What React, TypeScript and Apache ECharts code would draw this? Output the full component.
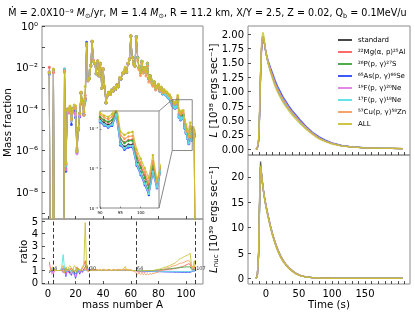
import React, { useEffect, useRef } from "react";
import * as echarts from "echarts";

const FONT = "DejaVu Sans";

const SERIES_NAMES = [
  "standard",
  "²²Mg(α, p)²⁵Al",
  "²⁶P(p, γ)²⁷S",
  "⁶⁵As(p, γ)⁶⁶Se",
  "¹⁹F(p, γ)²⁰Ne",
  "¹⁷F(p, γ)¹⁸Ne",
  "⁵⁷Cu(p, γ)⁵⁸Zn",
  "ALL",
];
const SERIES_COLORS = ["#333333", "#ff5a5a", "#3aa33a", "#2a45ff", "#e27ae2", "#4fe3e3", "#f59a5a", "#c9c02a"];

// mass numbers A = 1..107
const MASS_NUMBERS = Array.from({ length: 107 }, (_, i) => i + 1);

// standard final mass fractions per A (1e-20 = off scale)
const STD_MASS_FRACTION = [
  6e-3, 1e-20, 1e-20, 7e-3, 1e-20, 1e-20, 1e-20, 1e-20, 1e-20, 1e-20,
  1e-20, 7e-3, 2e-7, 9e-5, 8e-5, 1e-4, 3e-5, 1e-4, 1.1e-4, 1.1e-4,
  1e-6, 1e-5, 6e-5, 6e-4, 2e-4, 5e-5, 2.5e-4, 0.11, 2.5e-3, 3e-3,
  1.2e-2, 0.18, 2e-2, 1.5e-2, 5e-3, 2e-2, 4e-3, 1.5e-2, 1e-3, 8e-3,
  1.2e-3, 2e-4, 4.5e-4, 6e-4, 5e-4, 8e-4, 7e-4, 1e-3, 9e-4, 1.4e-3,
  1.2e-3, 3e-3, 2.8e-3, 5e-3, 5.5e-3, 8e-3, 6e-3, 1.5e-2, 2.5e-2, 0.32,
  3e-2, 1.5e-2, 1.2e-2, 0.3, 3e-2, 1e-2, 6e-3, 2e-2, 8e-3, 1e-2,
  6e-3, 1.6e-2, 3e-3, 4e-3, 2.5e-3, 1.6e-3, 2e-3, 1e-3, 1.2e-3, 1.4e-3,
  8e-4, 1e-3, 6e-4, 7e-4, 5.5e-4, 5e-4, 4e-4, 3.5e-4, 2.5e-4, 1.7e-4,
  1.4e-4, 1.25e-4, 1.4e-4, 2.5e-4, 4.5e-5, 3.5e-5, 4e-5, 4e-5, 1.4e-5, 8e-6,
  4.5e-6, 2.5e-6, 9e-6, 3.5e-6, 1e-5, 5e-6, 1e-20,
];

// ratio (variant / standard) per A
const R_22MG = [
  1.7, 1.0, 1.1, 0.8, 1.0, 1.0, 1.0, 1.0, 1.0, 1.1,
  1.2, 1.2, 0.7, 1.1, 0.9, 1.0, 1.2, 1.0, 0.8, 1.0,
  1.3, 1.0, 0.9, 1.0, 1.2, 1.4, 1.8, 1.1, 0.9, 1.0,
  1.05, 1.0, 1.1, 1.0, 1.05, 1.05, 1.0, 1.05, 1.0, 1.1,
  1.05, 1.0, 1.05, 1.05, 1.05, 1.0, 1.05, 1.05, 1.0, 1.08,
  1.05, 1.05, 1.0, 1.05, 1.05, 1.1, 1.0, 1.05, 1.05, 1.05,
  1.0, 1.0, 1.0, 0.95, 0.9, 0.85, 0.92, 0.85, 0.9, 0.85,
  0.92, 0.88, 0.92, 0.9, 0.95, 0.93, 0.97, 0.95, 1.0, 1.0,
  1.0, 1.02, 1.03, 1.05, 1.05, 1.07, 1.08, 1.1, 1.1, 1.12,
  1.15, 1.15, 1.18, 1.2, 1.25, 1.3, 1.3, 1.35, 1.4, 1.45,
  1.5, 1.55, 1.5, 1.2, 1.1, 1.3, 1.0,
];
const R_26P = [
  0.9, 1.0, 1.0, 1.1, 1.0, 1.0, 1.0, 1.0, 1.0, 1.0,
  0.9, 0.9, 1.2, 1.0, 1.1, 0.8, 1.0, 1.1, 0.9, 0.7,
  1.0, 1.2, 1.0, 0.9, 1.0, 1.1, 1.3, 1.2, 1.0, 1.0,
  1.0, 1.0, 1.0, 1.0, 1.0, 1.0, 1.0, 1.0, 1.0, 1.0,
  1.0, 1.0, 1.0, 1.0, 1.0, 1.0, 1.0, 1.0, 1.0, 1.0,
  1.0, 1.0, 1.0, 1.0, 1.0, 1.0, 1.0, 1.0, 1.0, 1.0,
  1.0, 1.0, 1.0, 1.0, 1.0, 1.0, 1.0, 1.0, 1.0, 1.0,
  1.0, 1.0, 1.0, 1.0, 1.0, 1.0, 1.0, 1.02, 1.03, 1.05,
  1.05, 1.07, 1.08, 1.1, 1.1, 1.12, 1.13, 1.15, 1.15, 1.17,
  1.18, 1.2, 1.2, 1.22, 1.22, 1.25, 1.25, 1.27, 1.28, 1.3,
  1.3, 1.3, 1.3, 1.1, 1.05, 1.1, 1.0,
];
const R_65AS = [
  0.8, 1.0, 0.9, 1.0, 1.0, 1.0, 1.0, 1.0, 1.0, 1.0,
  1.1, 1.1, 0.5, 1.0, 0.9, 0.8, 0.6, 1.0, 0.8, 0.35,
  0.8, 1.0, 0.7, 1.0, 0.9, 1.1, 1.2, 1.5, 1.1, 1.0,
  1.0, 1.0, 1.0, 1.0, 1.0, 1.0, 1.0, 1.0, 1.0, 1.0,
  1.0, 1.0, 1.0, 1.0, 1.0, 1.0, 1.0, 1.0, 1.0, 1.0,
  1.0, 1.0, 1.0, 1.0, 1.0, 1.0, 1.0, 1.0, 1.0, 1.0,
  1.0, 1.0, 1.0, 1.0, 0.97, 0.96, 0.95, 0.95, 0.94, 0.94,
  0.93, 0.93, 0.92, 0.92, 0.92, 0.91, 0.91, 0.9, 0.9, 0.9,
  0.9, 0.9, 0.89, 0.89, 0.88, 0.88, 0.88, 0.87, 0.87, 0.87,
  0.87, 0.86, 0.86, 0.86, 0.86, 0.85, 0.85, 0.85, 0.85, 0.85,
  0.85, 0.85, 0.85, 0.9, 0.95, 0.95, 1.0,
];
const R_19F = [
  1.0, 1.0, 0.7, 1.0, 1.0, 1.0, 1.0, 1.0, 1.0, 1.0,
  0.8, 0.9, 0.6, 1.0, 0.8, 0.7, 0.9, 1.0, 0.6, 0.5,
  0.7, 0.9, 0.8, 1.0, 0.8, 1.0, 1.1, 1.0, 1.0, 1.0,
  1.0, 1.0, 1.0, 1.0, 1.0, 1.0, 1.0, 1.0, 1.0, 1.0,
  1.0, 1.0, 1.0, 1.0, 1.0, 1.0, 1.0, 1.0, 1.0, 1.0,
  1.0, 1.0, 1.0, 1.0, 1.0, 1.0, 1.0, 1.0, 1.0, 1.0,
  1.0, 1.0, 1.0, 1.0, 0.98, 0.98, 0.98, 0.98, 0.98, 0.98,
  0.97, 0.97, 0.97, 0.97, 0.97, 0.96, 0.96, 0.96, 0.96, 0.95,
  0.95, 0.95, 0.95, 0.95, 0.94, 0.94, 0.94, 0.94, 0.93, 0.93,
  0.93, 0.93, 0.93, 0.92, 0.92, 0.92, 0.92, 0.92, 0.92, 0.92,
  0.92, 0.92, 0.92, 0.95, 0.97, 0.97, 1.0,
];
const R_17F = [
  1.0, 1.0, 1.2, 1.0, 1.0, 1.0, 1.0, 1.0, 1.0, 1.3,
  2.3, 1.2, 0.9, 1.0, 1.1, 1.0, 0.9, 1.0, 1.0, 1.0,
  1.1, 1.0, 1.0, 1.0, 1.0, 1.0, 1.0, 1.0, 1.0, 1.0,
  1.0, 1.0, 1.0, 1.0, 1.0, 1.0, 1.0, 1.0, 1.0, 1.0,
  1.0, 1.0, 1.0, 1.0, 1.0, 1.0, 1.0, 1.0, 1.0, 1.0,
  1.0, 1.0, 1.0, 1.0, 1.0, 1.0, 1.0, 1.0, 1.0, 1.0,
  1.0, 1.0, 1.0, 1.0, 0.99, 0.99, 0.98, 0.98, 0.97, 0.97,
  0.96, 0.96, 0.96, 0.95, 0.95, 0.95, 0.94, 0.94, 0.94, 0.94,
  0.93, 0.93, 0.93, 0.93, 0.92, 0.92, 0.92, 0.92, 0.92, 0.92,
  0.92, 0.92, 0.92, 0.92, 0.92, 0.92, 0.92, 0.92, 0.92, 0.92,
  0.92, 0.92, 0.92, 0.95, 0.97, 0.97, 1.0,
];
const R_57CU = [
  1.0, 1.0, 1.1, 1.0, 1.0, 1.0, 1.0, 1.0, 1.0, 1.0,
  1.0, 1.0, 1.1, 1.0, 1.0, 1.2, 1.0, 0.9, 1.0, 1.0,
  1.0, 1.1, 1.0, 1.0, 1.0, 1.0, 1.3, 1.0, 1.0, 1.0,
  1.0, 1.02, 1.0, 1.02, 1.0, 1.02, 1.0, 1.02, 1.0, 1.02,
  1.0, 1.02, 1.0, 1.02, 1.0, 1.02, 1.0, 1.02, 1.0, 1.02,
  1.0, 1.02, 1.0, 1.02, 1.0, 1.05, 1.0, 1.02, 1.0, 1.0,
  0.98, 0.95, 0.9, 0.8, 0.7, 0.78, 0.68, 0.76, 0.66, 0.74,
  0.65, 0.73, 0.66, 0.75, 0.7, 0.78, 0.75, 0.82, 0.85, 0.9,
  0.95, 1.0, 1.05, 1.1, 1.15, 1.2, 1.22, 1.25, 1.3, 1.35,
  1.38, 1.4, 1.45, 1.5, 1.55, 1.6, 1.6, 1.65, 1.7, 1.75,
  1.8, 1.8, 1.7, 1.3, 1.2, 1.4, 1.0,
];
const R_ALL = [
  0.9, 1.0, 1.3, 1.2, 1.0, 1.0, 1.0, 1.0, 1.0, 1.2,
  1.4, 0.8, 1.3, 1.0, 1.3, 1.4, 1.2, 1.0, 1.4, 1.3,
  0.9, 1.2, 1.0, 1.1, 1.3, 1.5, 4.9, 1.3, 1.0, 1.0,
  1.0, 1.05, 1.0, 1.05, 1.1, 1.0, 1.05, 1.1, 1.0, 1.05,
  1.1, 1.0, 1.05, 1.1, 1.05, 1.0, 1.05, 1.1, 1.05, 1.0,
  1.05, 1.1, 1.05, 1.1, 1.15, 1.33, 1.05, 1.1, 1.0, 1.05,
  1.0, 1.0, 1.0, 1.0, 0.95, 1.0, 0.95, 1.0, 0.95, 1.0,
  1.0, 1.0, 1.0, 1.0, 1.0, 1.0, 1.02, 1.05, 1.08, 1.1,
  1.12, 1.15, 1.2, 1.25, 1.28, 1.3, 1.35, 1.4, 1.45, 1.5,
  1.55, 1.6, 1.7, 1.8, 1.9, 2.0, 2.0, 2.1, 2.15, 2.2,
  2.25, 2.3, 2.4, 1.4, 1.3, 1.8, 1.0,
];
const RATIOS = [R_22MG, R_26P, R_65AS, R_19F, R_17F, R_57CU, R_ALL];

// vertical dashed markers in the ratio panel
const MARK_A = [4, 30, 64, 107];
const MARK_LABELS = ["4", "30", "64", "107"];

// light curves
const TIME_S = [-15, -13, -11, -10, -9, -8, -7, -6, -5, -4, -3, -2, 0, 2, 4, 7, 10, 14, 18, 22, 26, 30, 35, 40, 46, 52, 60, 70, 80, 90, 100, 115, 130, 150, 170, 190, 207];
const L_STD = [0, 0.01, 0.15, 0.4, 0.85, 1.3, 1.65, 1.85, 1.94, 1.96, 1.9, 1.83, 1.68, 1.57, 1.48, 1.36, 1.26, 1.13, 1.02, 0.93, 0.85, 0.78, 0.7, 0.63, 0.55, 0.47, 0.38, 0.28, 0.2, 0.14, 0.1, 0.06, 0.04, 0.025, 0.018, 0.015, 0.012];
const L_22MG = [0, 0.01, 0.12, 0.35, 0.78, 1.22, 1.58, 1.8, 1.9, 1.93, 1.88, 1.82, 1.68, 1.58, 1.5, 1.39, 1.29, 1.16, 1.05, 0.96, 0.88, 0.8, 0.72, 0.65, 0.57, 0.49, 0.39, 0.29, 0.21, 0.15, 0.1, 0.06, 0.04, 0.025, 0.018, 0.015, 0.012];
const L_65AS = [0, 0.01, 0.14, 0.38, 0.82, 1.26, 1.62, 1.83, 1.92, 1.94, 1.89, 1.83, 1.7, 1.6, 1.52, 1.42, 1.33, 1.2, 1.09, 1.0, 0.91, 0.84, 0.75, 0.67, 0.59, 0.51, 0.41, 0.3, 0.22, 0.16, 0.11, 0.065, 0.042, 0.026, 0.019, 0.015, 0.012];
const L_57CU = [0, 0.01, 0.15, 0.4, 0.84, 1.28, 1.64, 1.84, 1.93, 1.95, 1.9, 1.83, 1.69, 1.58, 1.5, 1.38, 1.28, 1.15, 1.04, 0.95, 0.87, 0.8, 0.71, 0.64, 0.56, 0.48, 0.39, 0.28, 0.2, 0.14, 0.1, 0.06, 0.04, 0.025, 0.018, 0.015, 0.012];
const L_ALL = [0, 0.02, 0.2, 0.5, 0.95, 1.4, 1.75, 1.93, 2.01, 2.03, 1.97, 1.88, 1.7, 1.57, 1.46, 1.33, 1.22, 1.09, 0.98, 0.89, 0.81, 0.74, 0.66, 0.59, 0.51, 0.44, 0.35, 0.26, 0.18, 0.13, 0.09, 0.055, 0.037, 0.023, 0.017, 0.014, 0.012];
const LNUC_STD = [0, 0.3, 5, 12, 19, 23, 21.5, 20, 18.8, 17.7, 16.7, 15.8, 14.3, 13, 11.8, 10.1, 8.6, 6.9, 5.5, 4.3, 3.4, 2.7, 2.0, 1.4, 0.9, 0.55, 0.3, 0.15, 0.08, 0.05, 0.03, 0.02, 0.02, 0.01, 0.01, 0.01, 0.01];
const LNUC_VAR = [0, 0.3, 4.5, 11, 18, 22, 21, 19.7, 18.6, 17.6, 16.7, 15.9, 14.5, 13.2, 12, 10.3, 8.8, 7.1, 5.7, 4.5, 3.55, 2.8, 2.1, 1.5, 0.95, 0.6, 0.32, 0.16, 0.08, 0.05, 0.03, 0.02, 0.02, 0.01, 0.01, 0.01, 0.01];
const LNUC_ALL = [0, 0.4, 5.5, 12.5, 19, 22.2, 21.2, 19.8, 18.6, 17.5, 16.5, 15.6, 14.1, 12.8, 11.6, 9.9, 8.4, 6.7, 5.3, 4.2, 3.3, 2.6, 1.9, 1.35, 0.85, 0.52, 0.28, 0.14, 0.07, 0.04, 0.03, 0.02, 0.02, 0.01, 0.01, 0.01, 0.01];
const L_BY_SERIES = [L_STD, L_22MG, L_STD, L_65AS, L_STD, L_STD, L_57CU, L_ALL];
const LNUC_BY_SERIES = [LNUC_STD, LNUC_VAR, LNUC_VAR, LNUC_VAR, LNUC_VAR, LNUC_VAR, LNUC_VAR, LNUC_ALL];

// tick values
const MASS_TICKS = [0, 20, 40, 60, 80, 100];
const LOG_TICKS = [-8, -6, -4, -2, 0];
const LOG_MINOR = [-9, -8, -7, -6, -5, -4, -3, -2, -1, 0];
const RATIO_TICKS = [0, 1, 2, 3, 4, 5];
const TIME_TICKS = [0, 50, 100, 150];
const TIME_MINOR = [-20, -10, 0, 10, 20, 30, 40, 50, 60, 70, 80, 90, 100, 110, 120, 130, 140, 150, 160, 170, 180, 190, 200, 210];
const L_TICKS = [0, 0.25, 0.5, 0.75, 1.0, 1.25, 1.5, 1.75, 2.0];
const LNUC_TICKS = [0, 5, 10, 15, 20];
const INSET_X = [90, 104.5];
const INSET_Y = [-6, -3.55];
const INSET_X_TICKS = [90, 95, 100];
const INSET_Y_TICKS = [-6, -5, -4];

const SUP: Record<string, string> = { "-": "⁻", "0": "⁰", "1": "¹", "2": "²", "3": "³", "4": "⁴", "5": "⁵", "6": "⁶", "7": "⁷", "8": "⁸", "9": "⁹" };
const pow10 = (v: number) => "10" + String(Math.round(v)).split("").map((c) => SUP[c] || c).join("");

const BORDER = "#8a8a8a";

function axisBase(extra: any) {
  return {
    axisLine: { show: false, onZero: false },
    splitLine: { show: false },
    ...extra,
  };
}

function buildOption() {
  const series: any[] = [];
  const mf = (k: number) =>
    MASS_NUMBERS.map((a, i) => [a, Math.log10(STD_MASS_FRACTION[i] * (k === 0 ? 1 : RATIOS[k - 1][i]))]);

  SERIES_NAMES.forEach((name, k) => {
    const color = SERIES_COLORS[k];
    const data = mf(k);
    series.push({
      name, type: "line", xAxisIndex: 0, yAxisIndex: 0, data,
      symbol: "circle", symbolSize: 3, color,
      lineStyle: { width: 1, color, opacity: 0.8 },
      itemStyle: { color, opacity: 0.9 },
      z: 2 + k * 0.1,
    });
    series.push({
      name, type: "line", xAxisIndex: 4, yAxisIndex: 4,
      data: data.filter((d) => d[0] >= 88 && d[0] <= 106),
      symbol: "circle", symbolSize: 2.5, color,
      lineStyle: { width: 1.2, color, opacity: 0.85 },
      itemStyle: { color },
      z: 3 + k * 0.1,
    });
    if (k > 0) {
      const ratioSeries: any = {
        name, type: "line", xAxisIndex: 1, yAxisIndex: 1,
        data: MASS_NUMBERS.map((a, i) => [a, RATIOS[k - 1][i]]),
        showSymbol: false, color,
        lineStyle: { width: 1, color, opacity: 0.85 },
        z: 2 + k * 0.1,
      };
      if (k === 1) {
        ratioSeries.markLine = {
          silent: true, symbol: "none",
          label: { show: false },
          lineStyle: { type: [4, 2.5], color: "#222", width: 0.9, opacity: 1 },
          data: MARK_A.map((a) => ({ xAxis: a })),
        };
      }
      series.push(ratioSeries);
    }
    series.push({
      name, type: "line", xAxisIndex: 2, yAxisIndex: 2,
      data: TIME_S.map((t, i) => [t, L_BY_SERIES[k][i]]),
      showSymbol: false, color,
      lineStyle: { width: 1.3, color, opacity: 0.8 },
      z: 2 + k * 0.1,
    });
    series.push({
      name, type: "line", xAxisIndex: 3, yAxisIndex: 3,
      data: TIME_S.map((t, i) => [t, LNUC_BY_SERIES[k][i]]),
      showSymbol: false, color,
      lineStyle: { width: 1.3, color, opacity: 0.8 },
      z: 2 + k * 0.1,
    });
  });

  series.push({
    type: "scatter", xAxisIndex: 1, yAxisIndex: 1, symbolSize: 0, silent: true,
    data: MARK_A.map((a, i) => [a, 1.2, MARK_LABELS[i]]),
    label: {
      show: true, position: "right", distance: 0.5, fontSize: 5, color: "#000", fontFamily: FONT,
      formatter: (p: any) => p.data[2],
    },
    z: 10,
  });

  const tickStyle = { inside: true, length: 3, lineStyle: { color: "#222", width: 0.8 } };
  const labelStyle = { color: "#000", fontSize: 10, fontFamily: FONT, margin: 4 };
  const nameStyle = { color: "#000", fontSize: 10.3, fontFamily: FONT };

  return {
    animation: false,
    textStyle: { fontFamily: FONT },
    title: {
      text: "Ṁ = 2.0X10⁻⁹ {i|M}{s|⊙}/yr, M = 1.4 {i|M}{s|⊙}, R = 11.2 km, X/Y = 2.5, Z = 0.02, Q{s|b} = 0.1MeV/u",
      left: "center", top: 1,
      textStyle: {
        fontFamily: FONT, fontSize: 9.6, fontWeight: "normal", color: "#000", lineHeight: 13,
        rich: {
          i: { fontFamily: FONT, fontSize: 9.6, fontStyle: "italic", color: "#000", lineHeight: 13 },
          s: { fontFamily: FONT, fontSize: 6.5, color: "#000", lineHeight: 8, verticalAlign: "bottom" },
        },
      },
    },
    legend: {
      data: SERIES_NAMES, orient: "vertical", left: 333, top: 31,
      itemWidth: 14, itemHeight: 2, itemGap: 4, icon: "rect", selectedMode: false,
      textStyle: { fontSize: 7, fontFamily: FONT, color: "#000", lineHeight: 8, padding: [0, 0, 0, 1] },
    },
    grid: [
      { left: 42, top: 26, width: 161, height: 193, show: true, borderColor: BORDER, borderWidth: 1, outerBoundsMode: "none" },
      { left: 42, top: 219, width: 161, height: 65, show: true, borderColor: BORDER, borderWidth: 1, outerBoundsMode: "none" },
      { left: 248, top: 26, width: 162, height: 129, show: true, borderColor: BORDER, borderWidth: 1, outerBoundsMode: "none" },
      { left: 248, top: 155, width: 162, height: 129, show: true, borderColor: BORDER, borderWidth: 1, outerBoundsMode: "none" },
      { left: 100, top: 111, width: 59, height: 97, show: true, borderColor: BORDER, borderWidth: 1, backgroundColor: "#fff", outerBoundsMode: "none" },
    ],
    xAxis: [
      axisBase({ gridIndex: 0, type: "value", min: -4.3, max: 112.3, position: "bottom",
        axisTick: { ...tickStyle, customValues: MASS_TICKS }, axisLabel: { show: false } }),
      axisBase({ gridIndex: 1, type: "value", min: -4.3, max: 112.3, position: "bottom",
        axisTick: { ...tickStyle, customValues: MASS_TICKS },
        axisLabel: { ...labelStyle, customValues: MASS_TICKS },
        name: "mass number A", nameLocation: "middle", nameGap: 12, nameTextStyle: nameStyle }),
      axisBase({ gridIndex: 2, type: "value", min: -27, max: 218, position: "bottom",
        axisTick: { ...tickStyle, customValues: TIME_MINOR }, axisLabel: { show: false } }),
      axisBase({ gridIndex: 3, type: "value", min: -27, max: 218, position: "bottom",
        axisTick: { ...tickStyle, customValues: TIME_MINOR },
        axisLabel: { ...labelStyle, customValues: TIME_TICKS },
        name: "Time (s)", nameLocation: "middle", nameGap: 12, nameTextStyle: nameStyle }),
      axisBase({ gridIndex: 4, type: "value", min: INSET_X[0], max: INSET_X[1], position: "bottom",
        axisTick: { inside: true, length: 1.5, lineStyle: { color: "#222", width: 0.5 }, customValues: INSET_X_TICKS },
        axisLabel: { color: "#000", fontSize: 4, fontFamily: FONT, margin: 2, customValues: INSET_X_TICKS } }),
    ],
    yAxis: [
      axisBase({ gridIndex: 0, type: "value", min: -9.3, max: 0, position: "left",
        axisTick: { ...tickStyle, customValues: LOG_MINOR },
        axisLabel: { ...labelStyle, customValues: LOG_TICKS, formatter: (v: number) => pow10(v) },
        name: "Mass fraction", nameLocation: "middle", nameGap: 28, nameTextStyle: nameStyle }),
      axisBase({ gridIndex: 1, type: "value", min: -0.1, max: 5.2, position: "left",
        axisTick: { ...tickStyle, customValues: RATIO_TICKS },
        axisLabel: { ...labelStyle, customValues: RATIO_TICKS },
        name: "ratio", nameLocation: "middle", nameGap: 11, nameTextStyle: nameStyle }),
      axisBase({ gridIndex: 2, type: "value", min: -0.1, max: 2.14, position: "left",
        axisTick: { ...tickStyle, customValues: L_TICKS },
        axisLabel: { ...labelStyle, customValues: L_TICKS, formatter: (v: number) => v.toFixed(2) },
        name: "{i|L} [10³⁸ ergs sec⁻¹]", nameLocation: "middle", nameGap: 29,
        nameTextStyle: { ...nameStyle, rich: { i: { ...nameStyle, fontStyle: "italic" } } } }),
      axisBase({ gridIndex: 3, type: "value", min: -1.1, max: 24.3, position: "left",
        axisTick: { ...tickStyle, customValues: LNUC_TICKS },
        axisLabel: { ...labelStyle, customValues: LNUC_TICKS },
        name: "{i|L}{s|nuc} [10³⁹ ergs sec⁻¹]", nameLocation: "middle", nameGap: 29,
        nameTextStyle: { ...nameStyle, lineHeight: 13, rich: {
          i: { ...nameStyle, fontStyle: "italic", lineHeight: 13 },
          s: { ...nameStyle, fontSize: 7, lineHeight: 8, verticalAlign: "bottom" },
        } } }),
      axisBase({ gridIndex: 4, type: "value", min: INSET_Y[0], max: INSET_Y[1], position: "left",
        axisTick: { inside: true, length: 1.5, lineStyle: { color: "#222", width: 0.5 }, customValues: INSET_Y_TICKS },
        axisLabel: { color: "#000", fontSize: 4, fontFamily: FONT, margin: 2, customValues: INSET_Y_TICKS, formatter: (v: number) => pow10(v) } }),
    ],
    series,
  };
}

export default function App() {
  const ref = useRef<HTMLDivElement>(null);
  useEffect(() => {
    if (!ref.current) return;
    const chart = echarts.init(ref.current, null, { renderer: "svg" });
    chart.setOption(buildOption() as any);
    const tl = chart.convertToPixel({ gridIndex: 0 } as any, [INSET_X[0], INSET_Y[1]]) as number[];
    const br = chart.convertToPixel({ gridIndex: 0 } as any, [INSET_X[1], INSET_Y[0]]) as number[];
    const itr = chart.convertToPixel({ gridIndex: 4 } as any, [INSET_X[1], INSET_Y[1]]) as number[];
    const ibr = chart.convertToPixel({ gridIndex: 4 } as any, [INSET_X[1], INSET_Y[0]]) as number[];
    const stroke = { stroke: "#7a7a7a", lineWidth: 0.9, fill: "none" };
    chart.setOption({
      graphic: [
        { type: "rect", shape: { x: tl[0], y: tl[1], width: br[0] - tl[0], height: br[1] - tl[1] }, style: stroke, z: 20, silent: true },
        { type: "line", shape: { x1: tl[0], y1: tl[1], x2: itr[0], y2: itr[1] }, style: stroke, z: 20, silent: true },
        { type: "line", shape: { x1: tl[0], y1: br[1], x2: ibr[0], y2: ibr[1] }, style: stroke, z: 20, silent: true },
      ],
    });
    return () => chart.dispose();
  }, []);
  return <div ref={ref} style={{ position: "fixed", left: 0, top: 0, width: 415, height: 312 }} />;
}
